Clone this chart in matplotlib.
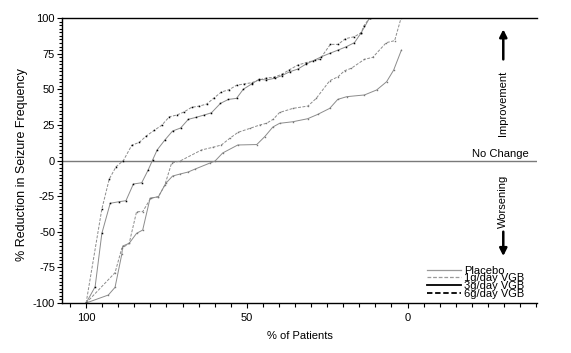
import matplotlib
matplotlib.use('Agg')
import matplotlib.pyplot as plt
from matplotlib.ticker import MultipleLocator

plt.rcParams['font.family'] = ['Liberation Sans', 'DejaVu Sans']
plt.rcParams['axes.unicode_minus'] = False

# % of patients (x) vs % reduction in seizure frequency (y)
placebo_x = [100, 93.1, 91.0, 88.9, 88.6, 86.6, 84.3, 82.4, 80.1, 77.5, 75.2, 73.1, 70.8, 68.3,
             66.1, 61.5, 59.9, 57.5, 52.8, 46.9, 44.4, 41.9, 39.8, 35.7, 31.1, 28.0, 24.2, 21.7,
             18.9, 13.4, 9.6, 6.5, 4.3, 1.9]
placebo_y = [-100, -94.4, -89.0, -65.8, -60.0, -58.1, -51.1, -48.8, -26.5, -25.4, -16.0, -10.9, -9.5, -8.1,
             -6.0, -1.8, -0.4, 5.3, 10.9, 11.2, 16.8, 23.5, 26.1, 27.2, 29.3, 32.3, 36.6, 42.9,
             44.8, 46.0, 49.5, 55.3, 63.5, 77.5]

g1_x = [100, 91.0, 88.9, 86.6, 84.3, 82.4, 79.9, 77.5, 75.5, 73.4, 70.8, 64.1, 60.5, 57.9, 55.3,
        52.7, 49.1, 46.0, 43.9, 41.8, 39.8, 35.6, 31.0, 28.4, 24.2, 21.6, 19.6, 17.5, 13.4, 10.8,
        6.6, 4.0, 2.0]
g1_y = [-100, -78.7, -61.6, -58.1, -35.9, -35.9, -26.5, -25.4, -17.2, -1.8, -0.4, 7.4, 9.3, 10.9, 15.6,
        19.8, 22.5, 24.9, 26.1, 28.9, 33.7, 36.6, 38.2, 43.6, 56.0, 58.8, 63.0, 64.7, 71.0, 72.4,
        82.7, 84.1, 100]

g3_x = [100, 97.2, 95.1, 92.5, 89.7, 87.6, 85.3, 82.7, 80.7, 79.3, 77.9, 75.5, 73.1, 70.6, 68.2,
        65.8, 63.3, 61.0, 58.2, 55.7, 53.2, 51.1, 48.5, 46.2, 43.9, 41.3, 39.2, 36.6, 34.1, 31.7,
        28.9, 26.8, 24.2, 21.6, 19.0, 16.5, 14.4, 11.8]
g3_y = [-100, -88.6, -51.1, -30.0, -28.9, -28.2, -16.5, -15.6, -6.7, 0.4, 7.4, 14.4, 20.7, 22.8, 28.9,
        30.3, 31.9, 33.5, 40.1, 42.9, 43.6, 50.0, 53.7, 57.0, 56.5, 57.7, 59.5, 62.3, 64.2, 67.5,
        70.5, 72.8, 75.2, 77.5, 79.9, 82.7, 89.7, 100]

g6_x = [100, 95.1, 92.8, 90.7, 88.4, 85.8, 83.4, 81.4, 78.8, 76.5, 74.1, 71.8, 69.6, 67.2, 64.8,
        62.5, 60.2, 57.9, 55.5, 53.2, 50.9, 48.5, 46.2, 43.9, 41.5, 38.9, 36.9, 34.1, 31.7, 29.4,
        27.3, 24.0, 21.6, 19.3, 16.5, 14.4, 13.6, 11.8]
g6_y = [-100, -34.0, -13.0, -4.4, 0.0, 10.7, 12.8, 17.0, 21.2, 24.7, 30.7, 31.9, 34.0, 37.3, 38.2,
        39.6, 43.9, 48.1, 49.7, 52.8, 53.7, 54.6, 56.5, 57.9, 58.4, 60.7, 63.5, 67.0, 68.6, 70.0,
        71.0, 81.5, 81.5, 85.5, 86.9, 89.7, 94.4, 100]

labels = ['Placebo', '1g/day VGB', '3g/day VGB', '6g/day VGB']

fig = plt.figure(figsize=(5.71, 3.53), dpi=100)
ax = fig.add_axes([0.1086, 0.1416, 0.8319, 0.8074])

line_col = '#8c8c8c'
ax.plot(placebo_x, placebo_y, color=line_col, lw=0.7, label=labels[0])
ax.plot(g1_x, g1_y, color=line_col, lw=0.7, dashes=(3, 1.5), label=labels[1])
ax.plot(g3_x, g3_y, color=line_col, lw=0.7, label=labels[2])
ax.plot(g6_x, g6_y, color=line_col, lw=0.7, dashes=(3, 1.5), label=labels[3])
# vertex dots
ax.plot(g3_x, g3_y, ls='none', marker='s', ms=1.1, mew=0, color='black')
ax.plot(g6_x, g6_y, ls='none', marker='s', ms=1.1, mew=0, color='black')
ax.plot(placebo_x, placebo_y, ls='none', marker='s', ms=1.0, mew=0, color='#777777')
ax.plot(g1_x, g1_y, ls='none', marker='s', ms=1.0, mew=0, color='#777777')

ax.axhline(0, color='#7a7a7a', lw=1.0, zorder=1)

ax.set_xticks([100, 50, 0])
ax.xaxis.set_minor_locator(MultipleLocator(5))
ax.yaxis.set_major_locator(MultipleLocator(25))
ax.yaxis.set_minor_locator(MultipleLocator(2.5))
ax.set_xlim(107.5, -40.3)
ax.set_ylim(-100, 100)
ax.tick_params(which='both', direction='out', labelsize=8, width=0.8, colors='black')
ax.tick_params(which='major', length=3.5)
ax.tick_params(which='minor', length=2.5)
ax.tick_params(axis='x', which='minor', length=3)
ax.tick_params(axis='y', pad=1.5)

ax.spines['right'].set_visible(False)
for s in ['left', 'top', 'bottom']:
    ax.spines[s].set_linewidth(1.0)

ax.set_xlabel('% of Patients', fontsize=8, labelpad=6)
ax.set_ylabel('% Reduction in Seizure Frequency', fontsize=9)
ax.yaxis.set_label_coords(-0.072, 0.485)

# side annotations
ax.text(-29.8, 40.4, 'Improvement', rotation=90, ha='center', va='center', fontsize=8)
ax.annotate('', xy=(-29.8, 94), xytext=(-29.8, 69),
            arrowprops=dict(arrowstyle='-|>', lw=1.8, color='black', mutation_scale=11))
ax.text(-37.6, 1.2, 'No Change', ha='right', va='bottom', fontsize=8)
ax.text(-29.8, -29, 'Worsening', rotation=90, ha='center', va='center', fontsize=8)
ax.annotate('', xy=(-29.8, -69), xytext=(-29.8, -48),
            arrowprops=dict(arrowstyle='-|>', lw=1.8, color='black', mutation_scale=11))

leg = ax.legend(loc='lower right', bbox_to_anchor=(0.985, -0.005), frameon=False, fontsize=8,
                handlelength=3.0, handletextpad=0.3, labelspacing=-0.2, borderpad=0)
styles = [('#999999', 0.9), ('#999999', 0.9), ('black', 1.3), ('black', 1.3)]
for h, (c, w) in zip(leg.get_lines(), styles):
    h.set_color(c)
    h.set_linewidth(w)

plt.savefig('out.png', dpi=100)
